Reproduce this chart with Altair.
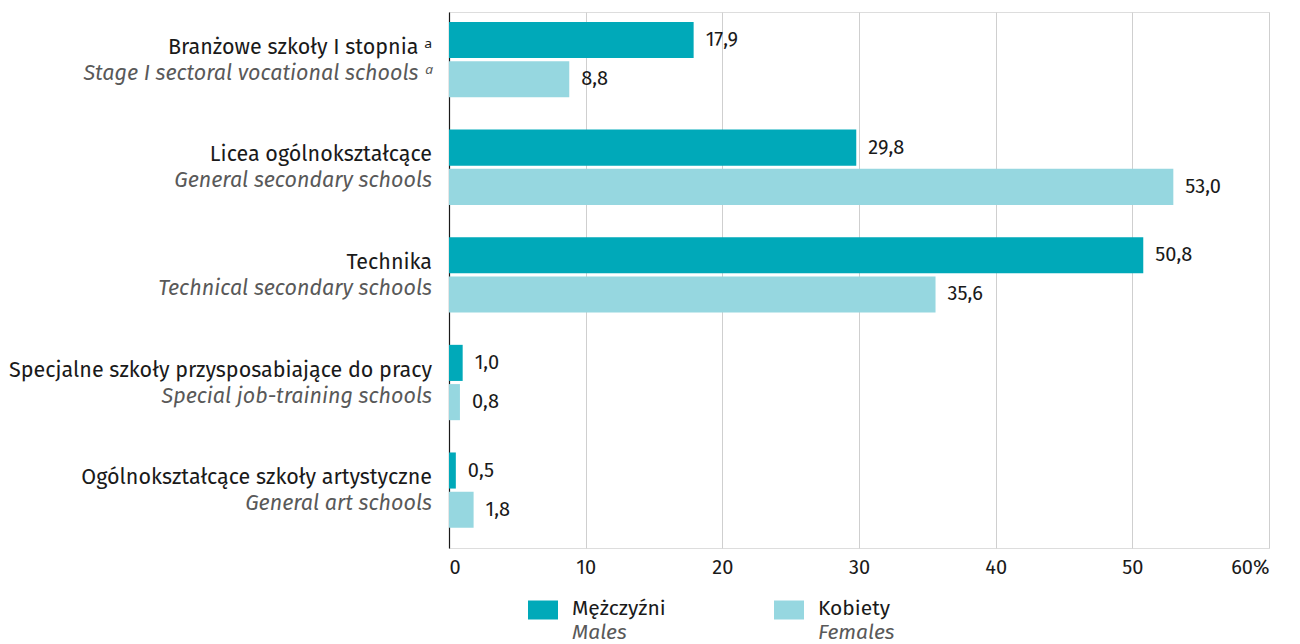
import altair as alt
import pandas as pd

# ---- data ----
categories_pl = [
    "Branżowe szkoły I stopnia ᵃ",
    "Licea ogólnokształcące",
    "Technika",
    "Specjalne szkoły przysposabiające do pracy",
    "Ogólnokształcące szkoły artystyczne",
]
categories_en = [
    "Stage I sectoral vocational schools ᵃ",
    "General secondary schools",
    "Technical secondary schools",
    "Special job-training schools",
    "General art schools",
]
males = [17.9, 29.8, 50.8, 1.0, 0.5]
females = [8.8, 53.0, 35.6, 0.8, 1.8]
series_pl = ["Mężczyźni", "Kobiety"]
series_en = ["Males", "Females"]
colors = ["#00A9B9", "#96D7E0"]
x_ticks = [0, 10, 20, 30, 40, 50, 60]

FONT = "Fira Sans, Noto Sans, Open Sans, sans-serif"
W, H = 820, 536

rows = []
for c, m, f in zip(categories_pl, males, females):
    rows.append({"cat": c, "sex": series_pl[0], "v": m})
    rows.append({"cat": c, "sex": series_pl[1], "v": f})
bars_df = pd.DataFrame(rows)
cat_df = pd.DataFrame({"cat": categories_pl, "en": categories_en})
leg_df = pd.DataFrame({"sex": series_pl, "en": series_en})

y_scale = alt.Scale(domain=categories_pl, paddingInner=0.3, paddingOuter=0.14, align=0.33)
yoff_scale = alt.Scale(domain=series_pl, paddingInner=0.08)
x_scale = alt.Scale(domain=[0, 60], nice=False)
color_scale = alt.Scale(domain=series_pl, range=colors)

base = alt.Chart(bars_df)

bars = base.mark_bar(cornerRadius=0).encode(
    x=alt.X("v:Q", scale=x_scale,
            axis=alt.Axis(values=x_ticks, title=None, grid=True, gridColor="#cfcfcf",
                          domain=False, ticks=False, labelFontSize=20, labelPadding=9,
                          labelFont=FONT, labelColor="#1a1a1a",
                          labelExpr="datum.value == 60 ? '60%' : datum.label")),
    y=alt.Y("cat:N", scale=y_scale,
            axis=alt.Axis(labels=False, ticks=False, title=None, grid=False,
                          domainColor="#1a1a1a", domainWidth=1.2)),
    yOffset=alt.YOffset("sex:N", scale=yoff_scale),
    color=alt.Color("sex:N", scale=color_scale, legend=None),
)

values = base.transform_calculate(
    lab="replace(format(datum.v, '.1f'), '.', ',')"
).mark_text(align="left", baseline="middle", dx=12, fontSize=20, font=FONT,
            color="#1a1a1a").encode(
    x=alt.X("v:Q", scale=x_scale, axis=None),
    y=alt.Y("cat:N", scale=y_scale),
    yOffset=alt.YOffset("sex:N", scale=yoff_scale),
    text="lab:N",
)

lab_pl = alt.Chart(cat_df).mark_text(align="right", baseline="middle", dy=-12,
                                     fontSize=21.5, font=FONT, color="#1a1a1a").encode(
    x=alt.value(-17),
    y=alt.Y("cat:N", scale=y_scale),
    text="cat:N",
)
lab_en = alt.Chart(cat_df).mark_text(align="right", baseline="middle", dy=14,
                                     fontSize=21.5, font=FONT, fontStyle="italic",
                                     color="#595959").encode(
    x=alt.value(-17),
    y=alt.Y("cat:N", scale=y_scale),
    text="en:N",
)

leg_x = alt.X("sex:N", scale=alt.Scale(type="point", domain=series_pl, range=[94, 340],
                                       padding=0),
              axis=None)
leg_sq = alt.Chart(leg_df).mark_point(
    shape="M-1,-0.633L1,-0.633L1,0.633L-1,0.633Z", size=900, filled=True,
    opacity=1, strokeWidth=0).encode(
    x=leg_x,
    y=alt.value(H + 62),
    color=alt.Color("sex:N", scale=color_scale, legend=None),
)
leg_pl = alt.Chart(leg_df).mark_text(align="left", baseline="middle", dx=29,
                                     fontSize=21, font=FONT, color="#1a1a1a").encode(
    x=leg_x, y=alt.value(H + 61), text="sex:N")
leg_en = alt.Chart(leg_df).mark_text(align="left", baseline="middle", dx=29,
                                     fontSize=21, font=FONT, fontStyle="italic",
                                     color="#595959").encode(
    x=leg_x, y=alt.value(H + 85), text="en:N")

chart = alt.layer(bars, values, lab_pl, lab_en, leg_sq, leg_pl, leg_en).resolve_scale(
    x="independent"
).properties(
    width=W, height=H,
    autosize=alt.AutoSizeParams(type="none"),
    padding={"left": 441, "top": 4, "right": 23, "bottom": 96},
).configure_view(stroke=None).configure(background="white")

chart.save("out.html", embed_options={"renderer": "svg", "actions": False})
